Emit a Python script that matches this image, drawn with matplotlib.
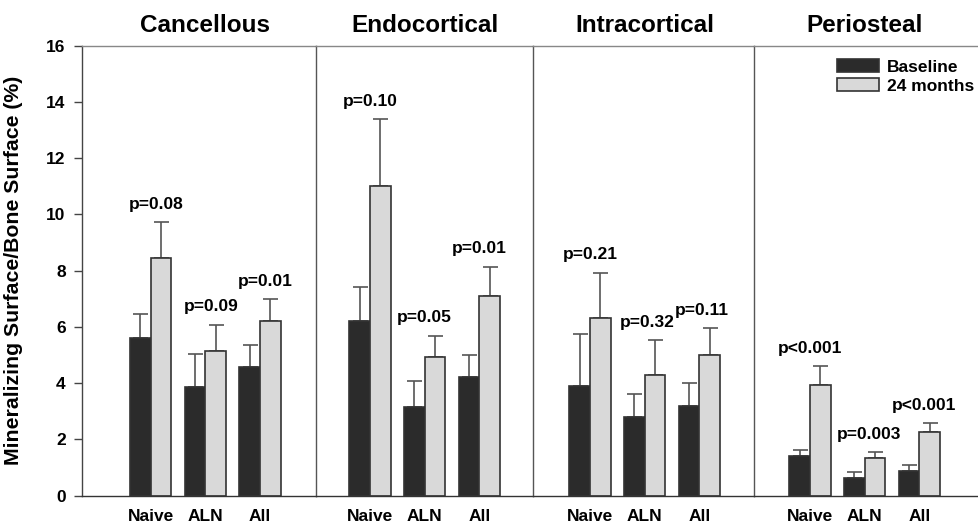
import matplotlib
matplotlib.use('Agg')
import matplotlib.pyplot as plt
import numpy as np

plt.rcParams['font.family'] = ['Liberation Sans', 'DejaVu Sans']
plt.rcParams['font.weight'] = 'bold'

# data
sites = ['Cancellous', 'Endocortical', 'Intracortical', 'Periosteal']
groups = ['Naive', 'ALN', 'All']

baseline = [[5.61, 3.85, 4.57],
            [6.19, 3.16, 4.23],
            [3.91, 2.79, 3.20],
            [1.40, 0.62, 0.88]]
baseline_err = [[0.84, 1.19, 0.79],
                [1.24, 0.92, 0.77],
                [1.85, 0.83, 0.80],
                [0.21, 0.22, 0.19]]
month24 = [[8.45, 5.14, 6.22],
           [11.00, 4.93, 7.09],
           [6.33, 4.28, 4.99],
           [3.92, 1.33, 2.25]]
month24_err = [[1.27, 0.93, 0.76],
               [2.38, 0.75, 1.04],
               [1.59, 1.24, 0.96],
               [0.68, 0.20, 0.32]]
pvals = [['p=0.08', 'p=0.09', 'p=0.01'],
         ['p=0.10', 'p=0.05', 'p=0.01'],
         ['p=0.21', 'p=0.32', 'p=0.11'],
         ['p<0.001', 'p=0.003', 'p<0.001']]

W, H = 979, 526
fig = plt.figure(figsize=(W / 100, H / 100), dpi=100)

# panel layout in pixels
edges = [81.7, 316, 533, 754, 979]
first_center = [150.7, 370, 590, 810]
label_shift = [4, 0, 2, 3]   # small horizontal nudge of p-labels, in points
unit = 54.7
top, bottom = 45.7, 495.5

dark = '#2b2b2b'
light = '#d9d9d9'
edge = '#333333'
bw = 0.38
x = np.arange(len(groups))

axes = []
for i, site in enumerate(sites):
    l, r = edges[i], edges[i + 1]
    ax = fig.add_axes([l / W, 1 - bottom / H, (r - l) / W, (bottom - top) / H])
    axes.append(ax)
    ax.set_xlim((l - first_center[i]) / unit, (r - first_center[i]) / unit)
    ax.set_ylim(0, 16)

    ax.bar(x - bw / 2, baseline[i], bw, color=dark, edgecolor=edge, linewidth=1.2, zorder=2)
    ax.bar(x + bw / 2, month24[i], bw, color=light, edgecolor=edge, linewidth=1.2, zorder=2)
    ax.errorbar(x - bw / 2, baseline[i], yerr=[np.zeros(3), baseline_err[i]], fmt='none',
                ecolor='#555555', elinewidth=1.2, capsize=5.4, capthick=1.2, zorder=1)
    ax.errorbar(x + bw / 2, month24[i], yerr=[np.zeros(3), month24_err[i]], fmt='none',
                ecolor='#555555', elinewidth=1.2, capsize=5.4, capthick=1.2, zorder=1)

    for j in range(len(groups)):
        ytop = max(baseline[i][j] + baseline_err[i][j], month24[i][j] + month24_err[i][j])
        ax.annotate(pvals[i][j], (x[j], ytop), xytext=(label_shift[i] if j else label_shift[i] * (i == 0), 13),
                    textcoords='offset points', ha='center', va='center',
                    fontsize=12.5, fontweight='bold')

    ax.annotate(site, (1, 1), xycoords=('data', 'axes fraction'), xytext=(0, 9.7),
                textcoords='offset points', ha='center', va='baseline',
                fontsize=17.5, fontweight='bold')

    ax.set_xticks(x)
    ax.set_xticklabels(groups, fontsize=12.5, fontweight='bold')
    ax.tick_params(axis='x', length=0, pad=9.5)

    ax.spines['right'].set_visible(False)
    ax.spines['top'].set_color('#888888')
    ax.spines['bottom'].set_color('#333333')
    ax.spines['left'].set_color('#444444' if i == 0 else '#555555')
    for s in ax.spines.values():
        s.set_linewidth(1.0)

    if i == 0:
        ax.set_yticks(np.arange(0, 17, 2))
        ax.tick_params(axis='y', length=6, width=1.0, color='#444444', pad=5.5, labelsize=12.5)
        for t in ax.get_yticklabels():
            t.set_fontweight('bold')
        ax.set_ylabel('Mineralizing Surface/Bone Surface (%)', fontsize=15.3, fontweight='bold')
        ax.yaxis.set_label_coords((23 - edges[0]) / (edges[1] - edges[0]), 0.5)
    else:
        ax.tick_params(axis='y', left=False, labelleft=False)

handles = [plt.Rectangle((0, 0), 1, 1, facecolor=dark, edgecolor=edge, linewidth=1.2),
           plt.Rectangle((0, 0), 1, 1, facecolor=light, edgecolor=edge, linewidth=1.2)]
fig.legend(handles, ['Baseline', '24 months'], loc='upper left',
           bbox_to_anchor=(837 / W, 1 - 59.5 / H), frameon=False, borderpad=0,
           borderaxespad=0, handlelength=2.4, handleheight=0.75, handletextpad=0.5,
           labelspacing=0.2, prop={'size': 12.5, 'weight': 'bold'})

fig.savefig('out.png', dpi=100)
